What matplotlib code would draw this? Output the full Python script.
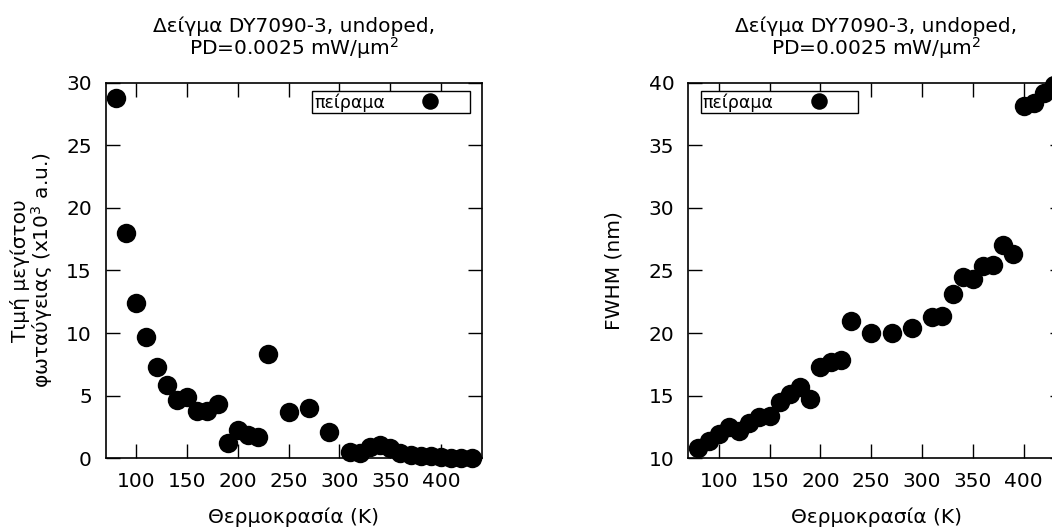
import matplotlib
matplotlib.use('Agg')
import matplotlib.pyplot as plt

temps_int = [80, 90, 100, 110, 120, 130, 140, 150, 160, 170, 180, 190, 200, 210, 220, 230,
             250, 270, 290, 310, 320, 330, 340, 350, 360, 370, 380, 390, 400, 410, 420, 430]
intensity = [28.75, 18.0, 12.38, 9.69, 7.27, 5.86, 4.66, 4.87, 3.78, 3.78, 4.31, 1.25, 2.26,
             1.86, 1.73, 8.30, 3.67, 4.02, 2.13, 0.53, 0.40, 0.93, 1.06, 0.80, 0.45, 0.27,
             0.20, 0.19, 0.08, 0.05, 0.05, 0.02]

temps_fwhm = temps_int
fwhm = [10.85, 11.38, 11.94, 12.53, 12.18, 12.85, 13.33, 13.38, 14.47, 15.11, 15.72, 14.74,
        17.27, 17.67, 17.85, 20.99, 19.98, 20.03, 20.43, 21.26, 21.39, 23.10, 24.45, 24.29,
        25.38, 25.44, 27.03, 26.32, 38.13, 38.40, 39.15, 39.80]

title = 'Δείγμα DY7090-3, undoped,\nPD=0.0025 mW/μm$^2$'
xlabel = 'Θερμοκρασία (K)'
fs = 14.5

plt.rcParams['font.family'] = ['DejaVu Sans']
plt.rcParams['mathtext.default'] = 'regular'

fig = plt.figure(figsize=(10.52, 5.28), dpi=100)
ax1 = fig.add_axes([0.1005, 0.132, 0.3574, 0.7114])
ax2 = fig.add_axes([0.6543, 0.132, 0.3574, 0.7114])


def style(ax):
    ax.set_xlim(70, 440)
    ax.set_xticks([100, 150, 200, 250, 300, 350, 400])
    ax.tick_params(direction='in', length=10, width=1, top=True, right=True,
                   labelsize=fs, pad=10)
    for s in ax.spines.values():
        s.set_linewidth(1.2)
    ax.set_xlabel(xlabel, fontsize=fs, labelpad=12)
    ax.set_title(title, fontsize=fs, pad=20, linespacing=0.95)


def legend(ax, loc, anchor):
    leg = ax.legend(loc=loc, bbox_to_anchor=anchor, markerfirst=False, markerscale=0.85,
                    fontsize=12.5, fancybox=False, framealpha=1, edgecolor='black',
                    borderpad=0.1, handlelength=4.4, handletextpad=0.38, borderaxespad=0)
    leg.get_frame().set_linewidth(1.0)
    return leg


ax1.plot(temps_int, intensity, 'o', color='black', ms=14, mec='none',
         label='πείραμα', clip_on=False, zorder=5)
style(ax1)
ax1.set_ylim(0, 30)
ax1.set_yticks([0, 5, 10, 15, 20, 25, 30])
ax1.set_ylabel('Τιμή μεγίστου\nφωταύγειας (x10$^3$ a.u.)', fontsize=fs, labelpad=8,
               linespacing=0.95)
legend(ax1, 'upper right', (0.968, 0.977))

ax2.plot(temps_fwhm, fwhm, 'o', color='black', ms=14, mec='none',
         label='πείραμα', clip_on=False, zorder=5)
style(ax2)
ax2.set_ylim(10, 40)
ax2.set_yticks([10, 15, 20, 25, 30, 35, 40])
ax2.set_ylabel('FWHM (nm)', fontsize=fs, labelpad=18)
legend(ax2, 'upper left', (0.034, 0.977))

fig.savefig('out.png', dpi=100)
